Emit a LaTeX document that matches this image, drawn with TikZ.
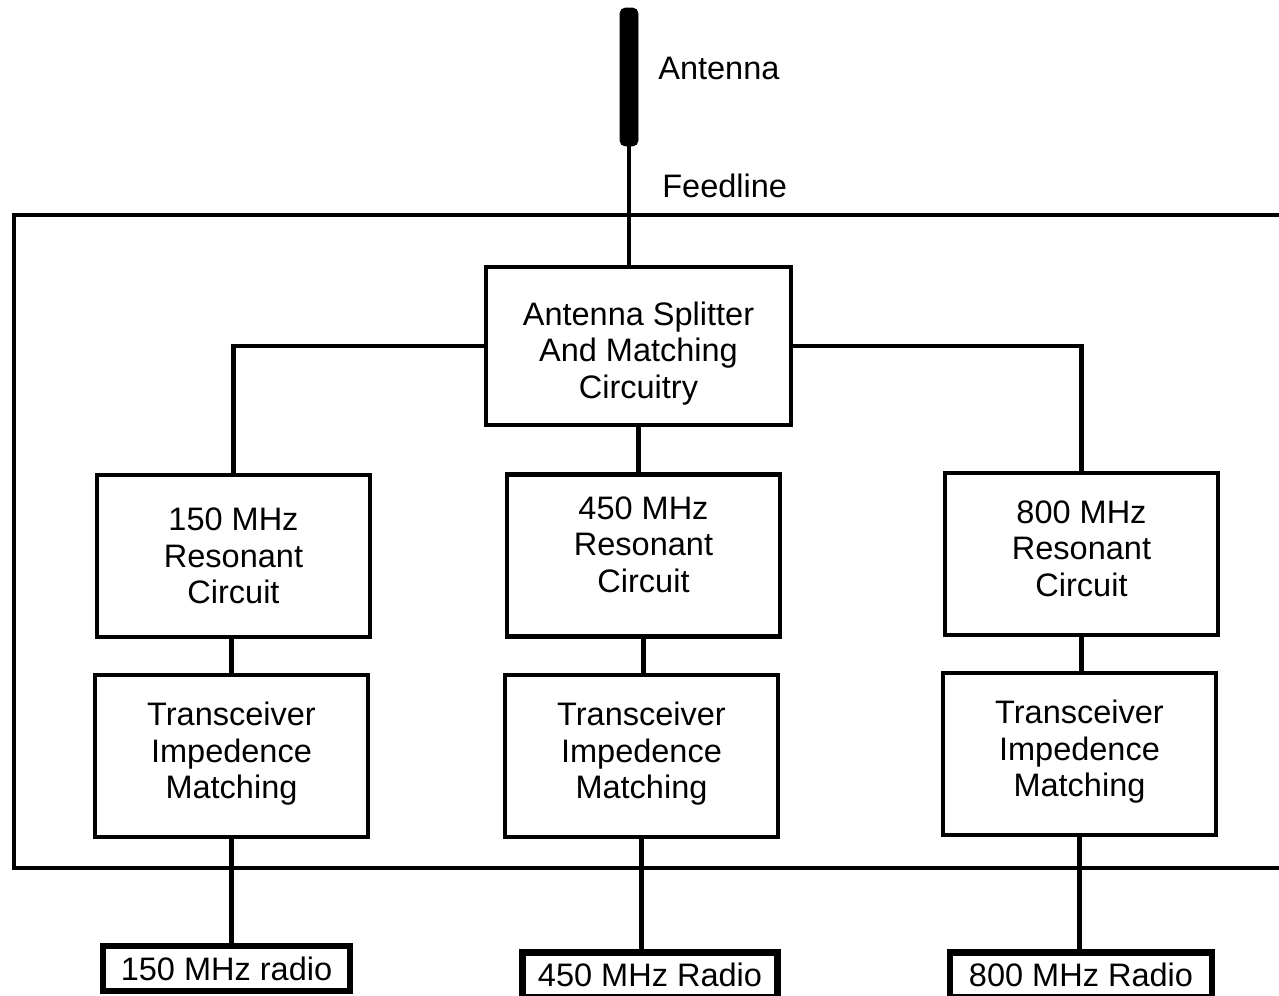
\documentclass[tikz,border=0pt]{standalone}
\usepackage{fontspec}
\setmainfont{Liberation Sans}
\usetikzlibrary{positioning}

\tikzset{
  blk/.style={draw,line width=2.3pt,align=center,minimum width=5.46cm,minimum height=3.24cm,inner sep=0pt,
    font=\fontsize{18.5}{20.7}\selectfont},
  radiobox/.style={draw,line width=3.5pt,minimum height=0.9cm,inner sep=0pt,
    font=\fontsize{18.5}{20.7}\selectfont},
  lbl/.style={anchor=west,inner sep=0pt,font=\fontsize{18.5}{20.7}\selectfont},
  wire/.style={line width=2.3pt}
}

\begin{document}
\begin{tikzpicture}[x=0.02cm,y=-0.02cm]
  \useasboundingbox[fill=white] (0,0) rectangle (1279,996);

  \draw[line width=2.8pt] (14,215) rectangle (1300,868);

  \node (ant) at (629,77)[fill,draw,rounded corners=3pt,minimum width=0.36cm,minimum height=2.76cm,inner sep=0pt]{};
  \node (antlbl) at (658,68)[lbl]{Antenna};
  \node (feedlbl) at (662,186)[lbl]{Feedline};

  \node (split) at (638.5,346)[blk,minimum width=6.1cm,minimum height=3.16cm]{\rule{0pt}{22pt}Antenna Splitter\\And Matching\\Circuitry};

  \node (res150) at (233.5,556)[blk]{150 MHz\\Resonant\\Circuit};
  \node (res450) at (643.5,555.5)[blk]{450 MHz\\Resonant\\Circuit\\[-0.29cm]};
  \node (res800) at (1081.5,554)[blk]{800 MHz\\Resonant\\Circuit\\[-0.5cm]};

  \node (trx150) at (231.5,756)[blk]{Transceiver\\Impedence\\Matching\\[-0.5cm]};
  \node (trx450) at (641.5,756)[blk]{Transceiver\\Impedence\\Matching\\[-0.5cm]};
  \node (trx800) at (1079.5,754)[blk]{Transceiver\\Impedence\\Matching\\[-0.5cm]};

  \node (radio150) at (226.5,968.5)[radiobox,minimum width=4.94cm]{150 MHz radio};
  \node (radio450) at (650,975)[radiobox,minimum width=5.1cm]{450 MHz Radio};
  \node (radio800) at (1081,975)[radiobox,minimum width=5.24cm]{800 MHz Radio};

  \draw[wire](ant.south)--(ant.south |- split.north);
  \draw[wire](split.west)-|(res150.north);
  \draw[wire](split.east)-|(res800.north);
  \draw[wire](split.south)--(split.south |- res450.north);

  \draw[wire](trx150.north |- res150.south)--(trx150.north);
  \draw[wire](res450.south)--(res450.south |- trx450.north);
  \draw[wire](res800.south)--(res800.south |- trx800.north);

  \draw[wire](trx150.south)--(trx150.south |- radio150.north);
  \draw[wire](trx450.south)--(trx450.south |- radio450.north);
  \draw[wire](trx800.south)--(trx800.south |- radio800.north);
\end{tikzpicture}
\end{document}
